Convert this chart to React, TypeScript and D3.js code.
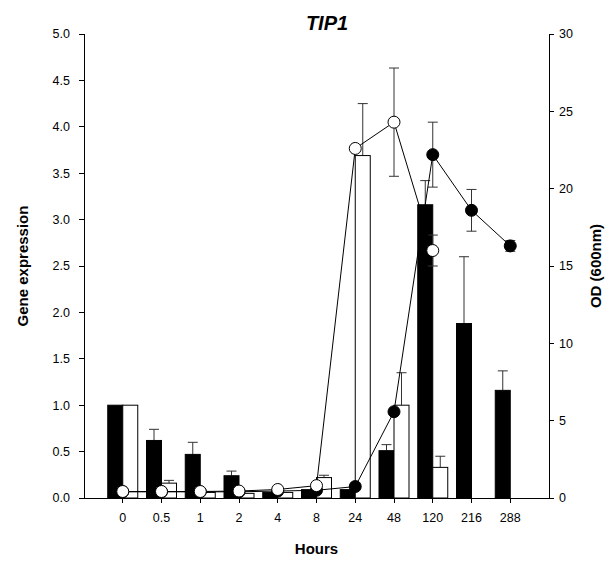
import React from "react";
import * as d3 from "d3";

// Sampling times (hours)
const hours = ["0", "0.5", "1", "2", "4", "8", "24", "48", "120", "216", "288"];

// Relative gene expression, filled bars (mean and upper SD)
const exprFilled = [1.0, 0.62, 0.47, 0.24, 0.06, 0.09, 0.09, 0.51, 3.16, 1.88, 1.16];
const exprFilledSd = [0, 0.12, 0.13, 0.05, 0, 0, 0, 0.065, 0.26, 0.72, 0.21];

// Relative gene expression, open bars (mean and upper SD)
const exprOpen = [1.0, 0.16, 0.06, 0.05, 0.06, 0.22, 3.69, 1.0, 0.33, null, null];
const exprOpenSd = [0, 0.03, 0, 0, 0, 0.025, 0.56, 0.35, 0.12, 0, 0];

// Culture density OD(600nm), filled circles
const odFilled = [0.4, 0.4, 0.4, 0.4, 0.45, 0.5, 0.74, 5.58, 22.2, 18.6, 16.3];
const odFilledSd = [0, 0, 0, 0, 0, 0, 0, 0, 2.1, 1.35, 0.35];

// Culture density OD(600nm), open circles
const odOpen = [0.42, 0.42, 0.42, 0.45, 0.55, 0.8, 22.6, 24.3, 16.0, null, null];
const odOpenSd = [0, 0, 0, 0, 0, 0, 0, 3.5, 1.0, 0, 0];

const leftTicks = [0, 0.5, 1, 1.5, 2, 2.5, 3, 3.5, 4, 4.5, 5];
const rightTicks = [0, 5, 10, 15, 20, 25, 30];

const W = 610;
const H = 562;
const plotLeft = 84;
const plotRight = 549;
const plotTop = 34;
const plotBottom = 498;
const barW = 15;
const font = "'Liberation Sans', Arial, sans-serif";
const errColor = "#333";

export default function App() {
  const x = d3.scalePoint<string>().domain(hours).range([plotLeft, plotRight]).padding(1);
  const yL = d3.scaleLinear().domain([0, 5]).range([plotBottom, plotTop]);
  const yR = d3.scaleLinear().domain([0, 30]).range([plotBottom, plotTop]);

  const lineGen = d3
    .line<[string, number | null]>()
    .defined((d) => d[1] != null)
    .x((d) => x(d[0]) as number)
    .y((d) => yR(d[1] as number));

  const filledPts = hours.map((h, i) => [h, odFilled[i]] as [string, number | null]);
  const openPts = hours.map((h, i) => [h, odOpen[i]] as [string, number | null]);

  const cap = 5;

  return (
    <svg
      width={W}
      height={H}
      style={{ position: "absolute", left: 0, top: 0, background: "#fff" }}
      fontFamily={font}
    >
      {/* bar error bars (upper only) */}
      {hours.map((h, i) => {
        const cx = (x(h) as number) - barW / 2;
        const v = exprFilled[i];
        const sd = exprFilledSd[i];
        if (!sd) return null;
        return (
          <g key={"fe" + h} stroke={errColor} strokeWidth={1}>
            <line x1={cx} x2={cx} y1={yL(v)} y2={yL(v + sd)} />
            <line x1={cx - cap} x2={cx + cap} y1={yL(v + sd)} y2={yL(v + sd)} />
          </g>
        );
      })}
      {hours.map((h, i) => {
        const cx = (x(h) as number) + barW / 2;
        const v = exprOpen[i];
        const sd = exprOpenSd[i];
        if (v == null || !sd) return null;
        return (
          <g key={"oe" + h} stroke={errColor} strokeWidth={1}>
            <line x1={cx} x2={cx} y1={yL(v)} y2={yL(v + sd)} />
            <line x1={cx - cap} x2={cx + cap} y1={yL(v + sd)} y2={yL(v + sd)} />
          </g>
        );
      })}

      {/* bars */}
      {hours.map((h, i) => (
        <rect
          key={"fb" + h}
          x={(x(h) as number) - barW}
          y={yL(exprFilled[i])}
          width={barW}
          height={yL(0) - yL(exprFilled[i])}
          fill="#000"
          stroke="#000"
          strokeWidth={1}
        />
      ))}
      {hours.map((h, i) =>
        exprOpen[i] == null ? null : (
          <rect
            key={"ob" + h}
            x={x(h) as number}
            y={yL(exprOpen[i] as number)}
            width={barW}
            height={yL(0) - yL(exprOpen[i] as number)}
            fill="#fff"
            stroke="#000"
            strokeWidth={1}
          />
        )
      )}

      {/* OD error bars */}
      {hours.map((h, i) => {
        const v = odFilled[i];
        const sd = odFilledSd[i];
        if (!sd) return null;
        const cx = x(h) as number;
        return (
          <g key={"fce" + h} stroke={errColor} strokeWidth={1}>
            <line x1={cx} x2={cx} y1={yR(v - sd)} y2={yR(v + sd)} />
            <line x1={cx - cap} x2={cx + cap} y1={yR(v + sd)} y2={yR(v + sd)} />
            <line x1={cx - cap} x2={cx + cap} y1={yR(v - sd)} y2={yR(v - sd)} />
          </g>
        );
      })}
      {hours.map((h, i) => {
        const v = odOpen[i];
        const sd = odOpenSd[i];
        if (v == null || !sd) return null;
        const cx = x(h) as number;
        return (
          <g key={"oce" + h} stroke={errColor} strokeWidth={1}>
            <line x1={cx} x2={cx} y1={yR(v - sd)} y2={yR(v + sd)} />
            <line x1={cx - cap} x2={cx + cap} y1={yR(v + sd)} y2={yR(v + sd)} />
            <line x1={cx - cap} x2={cx + cap} y1={yR(v - sd)} y2={yR(v - sd)} />
          </g>
        );
      })}

      {/* OD lines */}
      <path d={lineGen(filledPts) || ""} fill="none" stroke="#000" strokeWidth={1} />
      <path d={lineGen(openPts) || ""} fill="none" stroke="#000" strokeWidth={1} />

      {/* OD markers */}
      {hours.map((h, i) => (
        <circle key={"fc" + h} cx={x(h) as number} cy={yR(odFilled[i])} r={6} fill="#000" stroke="#000" />
      ))}
      {hours.map((h, i) =>
        odOpen[i] == null ? null : (
          <circle
            key={"oc" + h}
            cx={x(h) as number}
            cy={yR(odOpen[i] as number)}
            r={6}
            fill="#fff"
            stroke="#000"
            strokeWidth={1}
          />
        )
      )}

      {/* axes */}
      <g stroke="#000" strokeWidth={1} shapeRendering="crispEdges">
        <line x1={plotLeft} x2={plotLeft} y1={plotTop} y2={plotBottom} />
        <line x1={plotRight} x2={plotRight} y1={plotTop} y2={plotBottom} />
        <line x1={plotLeft} x2={plotRight} y1={plotBottom} y2={plotBottom} />
        {leftTicks.map((t) => (
          <line key={"lt" + t} x1={plotLeft - 5} x2={plotLeft} y1={yL(t)} y2={yL(t)} />
        ))}
        {rightTicks.map((t) => (
          <line key={"rt" + t} x1={plotRight} x2={plotRight + 5} y1={yR(t)} y2={yR(t)} />
        ))}
        {hours.map((h) => (
          <line key={"xt" + h} x1={x(h) as number} x2={x(h) as number} y1={plotBottom} y2={plotBottom + 5} />
        ))}
      </g>

      <g fontSize={12.5} fill="#000">
        {leftTicks.map((t) => (
          <text key={"ll" + t} x={plotLeft - 14} y={yL(t)} dy="0.35em" textAnchor="end">
            {t.toFixed(1)}
          </text>
        ))}
        {rightTicks.map((t) => (
          <text key={"rl" + t} x={plotRight + 10} y={yR(t)} dy="0.35em" textAnchor="start">
            {t}
          </text>
        ))}
        {hours.map((h) => (
          <text key={"xl" + h} x={x(h) as number} y={plotBottom + 24} textAnchor="middle">
            {h}
          </text>
        ))}
      </g>

      <text x={(plotLeft + plotRight) / 2} y={plotBottom + 56} textAnchor="middle" fontSize={15} fontWeight="bold">
        Hours
      </text>
      <text
        transform={`translate(28,${(plotTop + plotBottom) / 2}) rotate(-90)`}
        textAnchor="middle"
        fontSize={15}
        fontWeight="bold"
      >
        Gene expression
      </text>
      <text
        transform={`translate(601,${(plotTop + plotBottom) / 2}) rotate(-90)`}
        textAnchor="middle"
        fontSize={15}
        fontWeight="bold"
      >
        OD (600nm)
      </text>
      <text x={327} y={30} textAnchor="middle" fontSize={20} fontWeight="bold" fontStyle="italic">
        TIP1
      </text>
    </svg>
  );
}
